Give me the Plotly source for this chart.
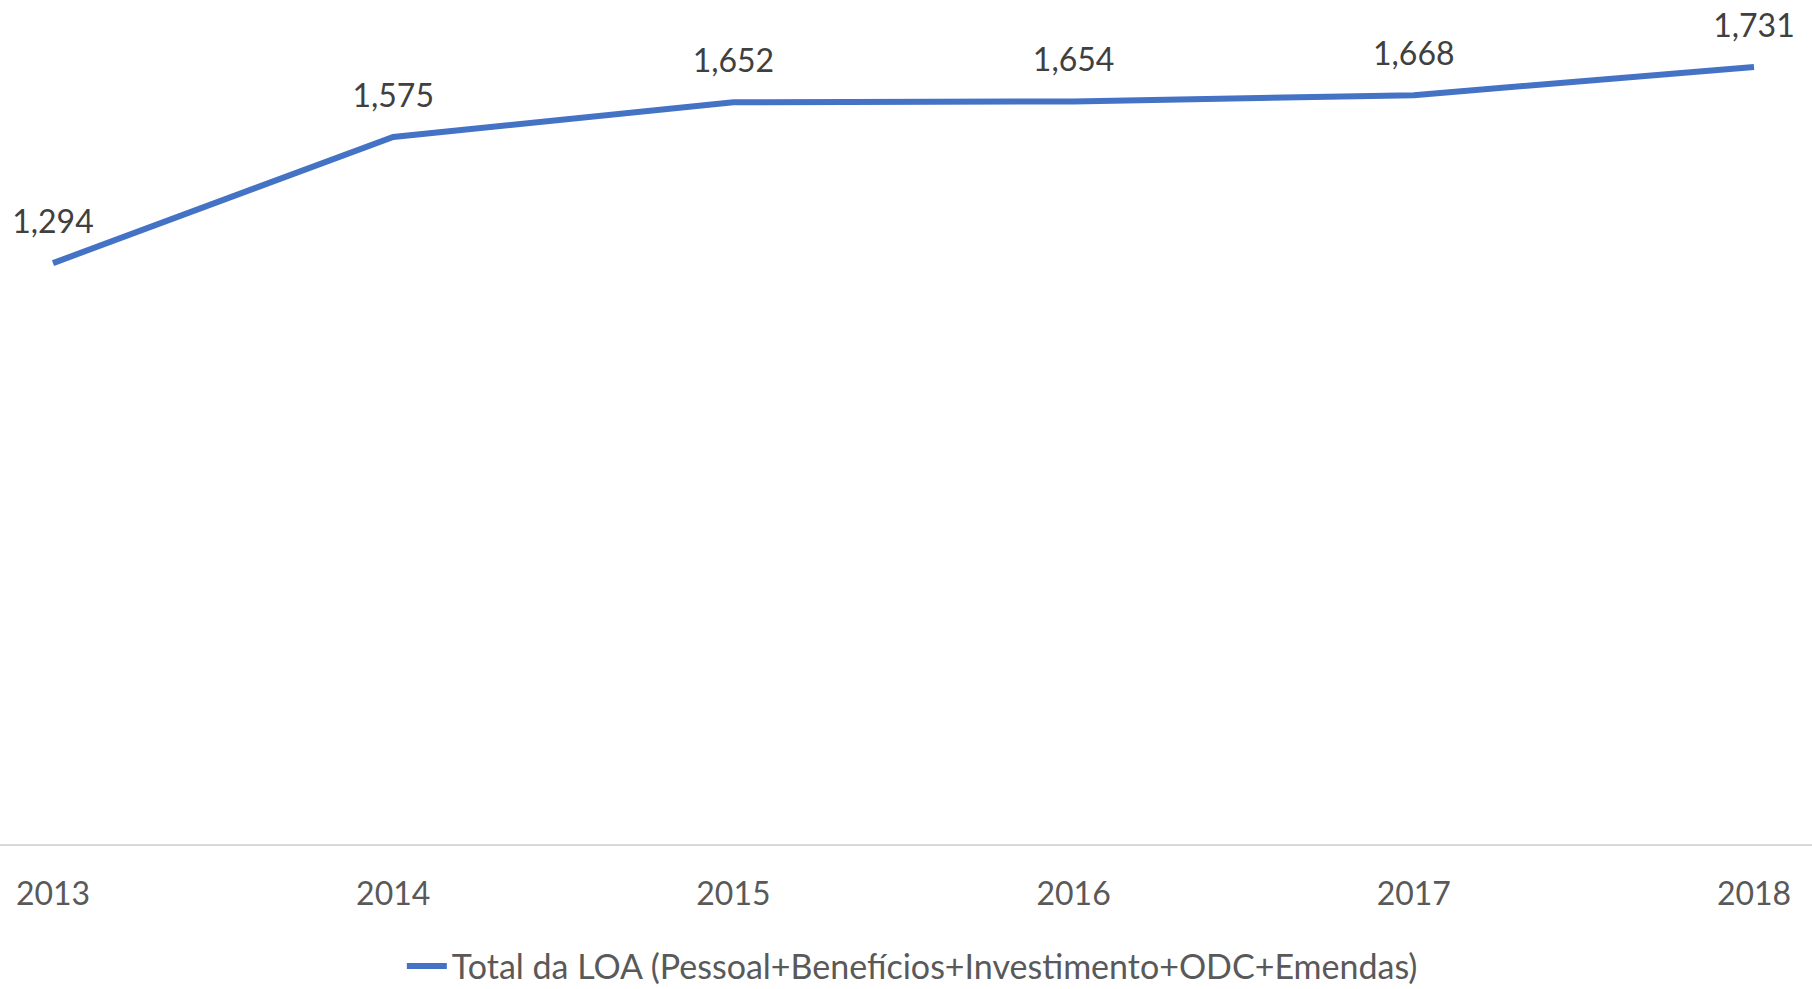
import plotly.graph_objects as go

years = ["2013", "2014", "2015", "2016", "2017", "2018"]
values = [1294, 1575, 1652, 1654, 1668, 1731]
series_name = "Total da LOA (Pessoal+Benefícios+Investimento+ODC+Emendas)"

fig = go.Figure()
fig.add_trace(go.Scatter(
    x=years, y=values, name=series_name,
    mode="lines+markers+text",
    line=dict(color="#4472C4", width=6),
    marker=dict(size=34, color="rgba(0,0,0,0)"),
    text=[f"{v:,}" for v in values],
    textposition="top center",
    textfont=dict(family="Lato", size=32, color="#404040"),
    cliponaxis=False,
))

fig.update_layout(
    width=1812, height=989,
    margin=dict(l=0, r=0, t=0, b=145, autoexpand=False),
    plot_bgcolor="white", paper_bgcolor="white",
    font=dict(family="Lato", size=32, color="#595959"),
    showlegend=True,
    legend=dict(orientation="h", x=0.5035, xanchor="center", y=-0.145, yanchor="middle",
                font=dict(family="Lato", size=34, color="#595959"),
                itemwidth=40),
    xaxis=dict(type="category", range=[-0.1558, 5.1705], showgrid=False,
               showline=True, linecolor="#D9D9D9", linewidth=2,
               ticks="", ticklabelstandoff=21,
               tickfont=dict(family="Lato", size=32, color="#595959")),
    yaxis=dict(range=[0, 1880], showgrid=False, zeroline=False, showticklabels=False,
               showline=False),
)

fig.write_html("out.html",
               config={"displayModeBar": False},
               post_script="document.body.style.margin='0';document.body.style.overflow='hidden';")
